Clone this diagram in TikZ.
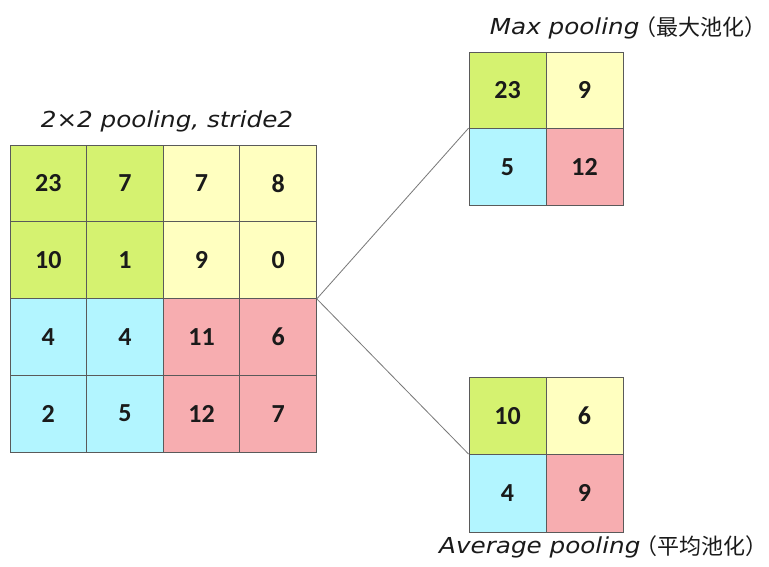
\documentclass[tikz,border=0pt]{standalone}
\usepackage{fontspec}
\setmainfont{Carlito}
\newfontfamily\handfont[FakeStretch=1.12]{DejaVu Sans}
\newfontfamily\cjkfont{Noto Sans CJK SC}

\definecolor{cgreen}{RGB}{213,242,112}
\definecolor{cyellow}{RGB}{255,255,192}
\definecolor{ccyan}{RGB}{178,245,255}
\definecolor{cpink}{RGB}{247,173,176}
\definecolor{gridline}{RGB}{90,90,90}
\definecolor{numtext}{RGB}{26,26,26}
\definecolor{linkline}{RGB}{120,120,120}

\begin{document}
\begin{tikzpicture}[x=1pt,y=-1pt,
  cell/.style={draw=gridline, line width=0.8pt, inner sep=0pt,
    minimum width=76.6pt, minimum height=76.75pt,
    font=\bfseries\fontsize{26}{26}\selectfont, text=numtext},
  smallcell/.style={cell, minimum width=77pt, minimum height=76.5pt},
  avgcell/.style={cell, minimum width=77pt, minimum height=77.5pt},
  title/.style={inner sep=0pt, text=numtext, font=\handfont\itshape\fontsize{22}{22}\selectfont},
  cjk/.style={inner sep=0pt, text=numtext, font=\cjkfont\fontsize{22}{22}\selectfont},
  link/.style={draw=linkline, line width=0.8pt}]
\useasboundingbox (0,0) rectangle (769,567);
\fill[white] (0,0) rectangle (769,567);

% 4x4 input feature map
\node[cell, fill=cgreen]  (b11) at (48.3,183.4) {23};
\node[cell, fill=cgreen]  (b12) at (124.9,183.4) {7};
\node[cell, fill=cyellow] (b13) at (201.5,183.4) {7};
\node[cell, fill=cyellow] (b14) at (278.1,183.4) {8};
\node[cell, fill=cgreen]  (b21) at (48.3,260.1) {10};
\node[cell, fill=cgreen]  (b22) at (124.9,260.1) {1};
\node[cell, fill=cyellow] (b23) at (201.5,260.1) {9};
\node[cell, fill=cyellow] (b24) at (278.1,260.1) {0};
\node[cell, fill=ccyan]   (b31) at (48.3,336.9) {4};
\node[cell, fill=ccyan]   (b32) at (124.9,336.9) {4};
\node[cell, fill=cpink]   (b33) at (201.5,336.9) {11};
\node[cell, fill=cpink]   (b34) at (278.1,336.9) {6};
\node[cell, fill=ccyan]   (b41) at (48.3,413.6) {2};
\node[cell, fill=ccyan]   (b42) at (124.9,413.6) {5};
\node[cell, fill=cpink]   (b43) at (201.5,413.6) {12};
\node[cell, fill=cpink]   (b44) at (278.1,413.6) {7};
\node[title] (tin) at (167,121) {2×2 pooling, stride2};

% max pooling result
\node[smallcell, fill=cgreen]  (m11) at (507.5,90.25) {23};
\node[smallcell, fill=cyellow] (m12) at (584.5,90.25) {9};
\node[smallcell, fill=ccyan]   (m21) at (507.5,166.75) {5};
\node[smallcell, fill=cpink]   (m22) at (584.5,166.75) {12};
\node[cjk, anchor=east] (tmaxcn) at (767,27) {（最大池化）};
\node[title, anchor=east] (tmax) at ([xshift=5pt,yshift=-1pt]tmaxcn.west) {Max pooling};

% average pooling result
\node[avgcell, fill=cgreen]  (v11) at (507.5,415.75) {10};
\node[avgcell, fill=cyellow] (v12) at (584.5,415.75) {6};
\node[avgcell, fill=ccyan]   (v21) at (507.5,493.25) {4};
\node[avgcell, fill=cpink]   (v22) at (584.5,493.25) {9};
\node[cjk, anchor=east] (tavgcn) at (768,546) {（平均池化）};
\node[title, anchor=east] (tavg) at ([xshift=5pt,yshift=-1pt]tavgcn.west) {Average pooling};

% connectors
\draw[link] (b24.south east) -- (m21.north west);
\draw[link] (b24.south east) -- (v21.north west);
\end{tikzpicture}
\end{document}
